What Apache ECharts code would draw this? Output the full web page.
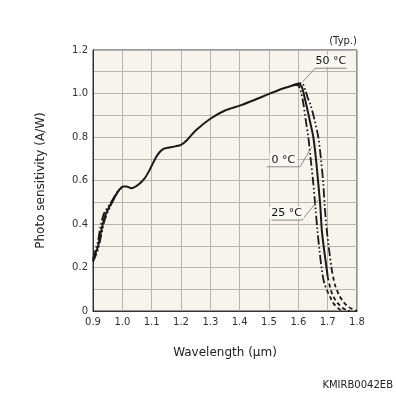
<!DOCTYPE html>
<html><head><meta charset="utf-8">
<script src="https://cdn.jsdelivr.net/npm/echarts@6/dist/echarts.min.js"></script>
<style>html,body{margin:0;padding:0;background:#fff}#c{width:396px;height:396px}</style>
</head><body><div id="c"></div>
<script>
// ---- data ----
const xTicks = [0.9,1.0,1.1,1.2,1.3,1.4,1.5,1.6,1.7,1.8];
const yTicks = [0,0.2,0.4,0.6,0.8,1.0,1.2];
// common part of the curve (wavelength µm, A/W)
const commonWl = [1.00,1.014,1.031,1.053,1.076,1.093,1.10,1.12,1.14,1.16,1.18,1.20,1.22,1.25,1.30,1.35,1.40,1.45,1.50,1.55,1.58];
const commonV  = [0.572,0.572,0.564,0.579,0.610,0.648,0.668,0.718,0.745,0.752,0.757,0.764,0.785,0.830,0.884,0.922,0.944,0.970,0.998,1.024,1.037];
// short-wavelength part per temperature
const shortWl0  = [0.90,0.91,0.917,0.925,0.934,0.94,0.962,0.985,1.00];
const shortV0   = [0.240,0.285,0.320,0.385,0.435,0.455,0.500,0.552,0.572];
const shortWl25 = [0.90,0.91,0.917,0.925,0.934,0.94,0.962,0.985,1.00];
const shortV25  = [0.232,0.270,0.296,0.350,0.403,0.434,0.495,0.549,0.572];
const shortWl50 = [0.90,0.91,0.917,0.925,0.934,0.94,0.962,0.985,1.00];
const shortV50  = [0.226,0.258,0.282,0.330,0.385,0.420,0.490,0.547,0.572];
// long-wavelength cutoff, measured part
const cutWl0  = [1.58,1.595,1.605,1.612,1.617,1.625,1.634,1.642,1.651,1.658,1.665,1.672,1.680,1.688,1.697];
const cutV0   = [1.037,1.040,1.025,0.990,0.955,0.880,0.800,0.700,0.587,0.480,0.372,0.280,0.190,0.130,0.097];
const cutWl25 = [1.58,1.600,1.612,1.620,1.626,1.640,1.651,1.660,1.668,1.675,1.680,1.688,1.697,1.700];
const cutV25  = [1.037,1.043,1.030,0.990,0.955,0.870,0.800,0.700,0.587,0.480,0.372,0.280,0.190,0.158];
const cutWl50 = [1.58,1.600,1.612,1.625,1.632,1.640,1.655,1.668,1.677,1.685,1.690,1.697,1.705,1.714];
const cutV50  = [1.037,1.046,1.048,1.010,0.980,0.955,0.880,0.800,0.700,0.587,0.480,0.372,0.280,0.189];
// long-wavelength tails (dashed)
const tailWl0  = [1.697,1.710,1.720,1.736,1.752];
const tailV0   = [0.097,0.060,0.035,0.012,0.0];
const tailWl25 = [1.700,1.710,1.720,1.735,1.750,1.765,1.776];
const tailV25  = [0.158,0.100,0.065,0.035,0.015,0.003,0.0];
const tailWl50 = [1.714,1.725,1.740,1.755,1.770,1.785,1.800];
const tailV50  = [0.189,0.120,0.070,0.040,0.020,0.008,0.0];
// label leaders: [underline end B, underline end A, curve point]; text at underline middle
const labels = ['0 °C','25 °C','50 °C'];
const leaderWl = [[1.492,1.606,1.646],[1.509,1.612,1.668],[1.765,1.657,1.615]];
const leaderV  = [[0.663,0.663,0.755],[0.418,0.418,0.510],[1.116,1.116,1.054]];
const labelWl  = [1.549,1.560,1.711];
const labelV   = [0.663,0.418,1.116];

const zip = (a,b)=>a.map((x,i)=>[x,b[i]]);
const ink = '#1a1a1a';
const dashDotDot = [9,2.5,1.6,2.5,1.6,2.5];
const tailDash = [4,3];

function curve(name, wl, v, type, w){
  return {type:'line', name, data:zip(wl,v), showSymbol:false, smooth:0.3, silent:true,
    lineStyle:{color:ink, width:w, type:type}, z:3};
}
const series = [];
series.push(curve('0s', shortWl0, shortV0, dashDotDot, 1.8));
series.push(curve('50s', shortWl50, shortV50, dashDotDot, 1.8));
series.push(curve('25s', shortWl25, shortV25, 'solid', 2));
series.push(curve('common', commonWl, commonV, 'solid', 2));
series.push(curve('0c', cutWl0, cutV0, dashDotDot, 1.8));
series.push(curve('25c', cutWl25, cutV25, 'solid', 2));
series.push(curve('50c', cutWl50, cutV50, dashDotDot, 1.8));
series.push(curve('0t', tailWl0, tailV0, tailDash, 1.8));
series.push(curve('25t', tailWl25, tailV25, tailDash, 1.8));
series.push(curve('50t', tailWl50, tailV50, tailDash, 1.8));
labels.forEach((t,k)=>{
  series.push({type:'line', data:zip(leaderWl[k], leaderV[k]), silent:true, z:4,
    showSymbol:false, lineStyle:{color:'#8c8c8c', width:1}});
});
series.push({type:'scatter', silent:true, z:6, symbol:'circle', symbolSize:1,
  itemStyle:{color:'rgba(0,0,0,0)'},
  data:labels.map((t,k)=>({value:[labelWl[k], labelV[k]], name:t})),
  label:{show:true, position:'top', distance:1, formatter:p=>p.name, color:'#111',
    opacity:1, textBorderWidth:0, backgroundColor:'#f9f8f3', padding:[1,2,0,2],
    fontFamily:'DejaVu Sans', fontSize:11}});

const chart = echarts.init(document.getElementById('c'), null, {renderer:'canvas'});
chart.setOption({
  animation:false,
  backgroundColor:'#fff',
  grid:{left:93, right:39, top:50, bottom:85, show:true, backgroundColor:'#f6f4ec', borderColor:'#333', borderWidth:1},
  xAxis:{type:'value', min:0.9, max:1.8, interval:0.1,
    name:'Wavelength (µm)', nameLocation:'middle', nameGap:36,
    nameTextStyle:{fontFamily:'DejaVu Sans', fontSize:12, color:'#222'},
    axisLine:{show:true, lineStyle:{color:'#333', width:1}}, axisTick:{show:false},
    axisLabel:{fontFamily:'DejaVu Sans', fontSize:10, color:'#333', margin:6,
      formatter:v=>v.toFixed(1)},
    splitLine:{show:true, lineStyle:{color:'#b5b5b0', width:1}}},
  yAxis:{type:'value', min:0, max:1.2, interval:0.1,
    name:'Photo sensitivity (A/W)', nameLocation:'middle', nameGap:46,
    nameTextStyle:{fontFamily:'DejaVu Sans', fontSize:12, color:'#222'},
    axisLine:{show:true, lineStyle:{color:'#333', width:1}}, axisTick:{show:false},
    axisLabel:{fontFamily:'DejaVu Sans', fontSize:10, color:'#333', margin:5,
      formatter:v=>{const r=Math.round(v*10); if(r%2) return ''; return r===0?'0':(r/10).toFixed(1);}},
    splitLine:{show:true, lineStyle:{color:'#b5b5b0', width:1}}},
  graphic:[
    {type:'text', right:39, top:36, style:{text:'(Typ.)', fontFamily:'DejaVu Sans', fontSize:10, fill:'#222'}},
    {type:'text', right:3, top:380, style:{text:'KMIRB0042EB', fontFamily:'DejaVu Sans', fontSize:10, fill:'#222'}}
  ],
  series
});
</script></body></html>
